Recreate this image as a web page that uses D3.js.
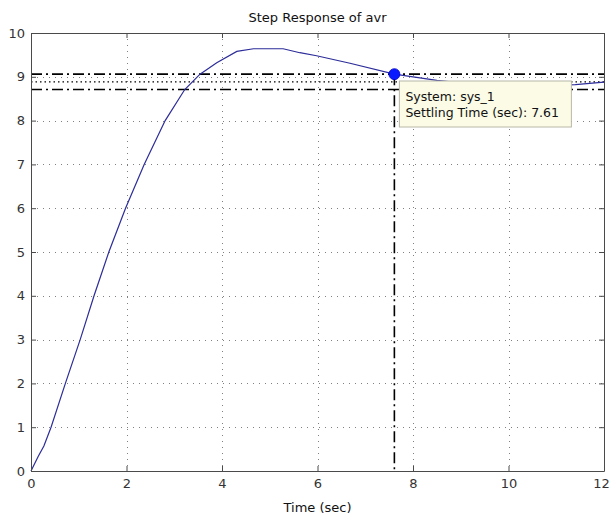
<!DOCTYPE html>
<html>
<head>
<meta charset="utf-8">
<script src="https://cdn.jsdelivr.net/npm/d3@7"></script>
<style>
  html, body { margin: 0; padding: 0; background: #fff; }
  svg { display: block; }
  text { font-family: "DejaVu Sans", "Liberation Sans", Arial, sans-serif; }
</style>
</head>
<body>
<svg id="chart" width="611" height="518"></svg>
<script>
// ---- data ----
const timeSec  = [0, 0.15, 0.27, 0.42, 0.72, 1.03, 1.32, 1.63, 1.98, 2.37, 2.81, 3.22, 3.54, 3.89, 4.31, 4.66, 5.28, 5.63, 5.98, 6.68, 7.61, 8.5, 9.2, 10.0, 10.8, 11.4, 12];
const response = [0, 0.33, 0.57, 1.0, 2.0, 3.0, 4.0, 5.0, 6.0, 7.0, 8.0, 8.71, 9.06, 9.32, 9.58, 9.64, 9.64, 9.55, 9.48, 9.31, 9.06, 8.92, 8.84, 8.80, 8.80, 8.82, 8.88];
const xTicks = [0, 2, 4, 6, 8, 10, 12];
const yTicks = [0, 1, 2, 3, 4, 5, 6, 7, 8, 9, 10];
const steadyState = 8.885;
const settleBand = [9.06, 8.71];
const settlingTime = 7.61;
const settlingValue = 9.06;
const titleText = "Step Response of avr";
const xLabel = "Time (sec)";
const tipLines = ["System: sys_1", "Settling Time (sec): 7.61"];

// ---- layout ----
const svg = d3.select("#chart");
const L = 31, R = 604, T = 33, B = 471;
const x = d3.scaleLinear().domain([0, 12]).range([L, R]);
const y = d3.scaleLinear().domain([0, 10]).range([B, T]);

svg.append("rect").attr("width", 611).attr("height", 518).attr("fill", "#fff");

// grid
const grid = svg.append("g").attr("stroke", "#808080").attr("stroke-width", 1).attr("stroke-dasharray", "1,5");
grid.selectAll("line.gx").data(xTicks.slice(1, -1)).join("line")
  .attr("x1", d => Math.round(x(d)) + 0.5).attr("x2", d => Math.round(x(d)) + 0.5)
  .attr("y1", T).attr("y2", B);
grid.selectAll("line.gy").data(yTicks.slice(1, -1)).join("line")
  .attr("x1", L).attr("x2", R)
  .attr("y1", d => Math.round(y(d)) + 0.5).attr("y2", d => Math.round(y(d)) + 0.5);

// settling characteristic lines
const ch = svg.append("g").attr("stroke", "#000").attr("fill", "none");
ch.selectAll("line.band").data(settleBand).join("line")
  .attr("x1", L).attr("x2", R)
  .attr("y1", d => y(d)).attr("y2", d => y(d))
  .attr("stroke-width", 1.6).attr("stroke-dasharray", "11,4,2,4");
ch.append("line")
  .attr("x1", L).attr("x2", R)
  .attr("y1", y(steadyState)).attr("y2", y(steadyState))
  .attr("stroke-width", 1.2).attr("stroke-dasharray", "1.5,3");
ch.append("line")
  .attr("x1", x(settlingTime)).attr("x2", x(settlingTime))
  .attr("y1", y(settlingValue)).attr("y2", B)
  .attr("stroke-width", 1.6).attr("stroke-dasharray", "11,4,2,4");

// response curve
const line = d3.line().x((d, i) => x(timeSec[i])).y(d => y(d));
svg.append("path").datum(response)
  .attr("d", line)
  .attr("fill", "none").attr("stroke", "#2c2c9a").attr("stroke-width", 1.2);

// axes (ticks inward)
function styleAxis(g) {
  g.select(".domain").attr("stroke", "#4a4a4a");
  g.selectAll(".tick line").attr("stroke", "#4a4a4a");
  g.selectAll(".tick text").attr("fill", "#333").attr("font-size", 13)
    .attr("font-family", '"DejaVu Sans", "Liberation Sans", Arial, sans-serif');
}
const xAxisG = svg.append("g").attr("transform", `translate(0,${B})`)
  .call(d3.axisBottom(x).tickValues(xTicks).tickFormat(d3.format("d")).tickSizeInner(-5).tickSizeOuter(0).tickPadding(8))
  .call(styleAxis);
xAxisG.selectAll(".tick text").filter(d => d === 12).attr("dx", -3);
svg.append("g").attr("transform", `translate(${L},0)`)
  .call(d3.axisLeft(y).tickValues(yTicks).tickFormat(d3.format("d")).tickSizeInner(-5).tickSizeOuter(0).tickPadding(6))
  .call(styleAxis);
svg.append("g").attr("transform", `translate(0,${T})`)
  .call(d3.axisTop(x).tickValues(xTicks).tickFormat("").tickSizeInner(-5).tickSizeOuter(0))
  .call(styleAxis);
svg.append("g").attr("transform", `translate(${R},0)`)
  .call(d3.axisRight(y).tickValues(yTicks).tickFormat("").tickSizeInner(-5).tickSizeOuter(0))
  .call(styleAxis);

// data tip marker
svg.append("circle").attr("cx", x(settlingTime)).attr("cy", y(settlingValue)).attr("r", 5.5)
  .attr("fill", "#0a1aff").attr("stroke", "#0000cc").attr("stroke-width", 0.8);

// data tip box
const tip = svg.append("g").attr("transform", `translate(${x(settlingTime) + 5},81)`);
tip.append("rect").attr("x", 0).attr("y", 0).attr("width", 172).attr("height", 46)
  .attr("fill", "#fbfbe6").attr("stroke", "#b8b8a8").attr("stroke-width", 1);
tip.selectAll("text").data(tipLines).join("text")
  .attr("x", 6).attr("y", (d, i) => 20 + i * 16)
  .attr("font-size", 12.5).attr("fill", "#111")
  .text(d => d);

// title and label
svg.append("text").attr("x", (L + R) / 2).attr("y", 22).attr("text-anchor", "middle")
  .attr("font-size", 13).attr("fill", "#111").text(titleText);
svg.append("text").attr("x", (L + R) / 2).attr("y", 512).attr("text-anchor", "middle")
  .attr("font-size", 13).attr("fill", "#111").text(xLabel);
</script>
</body>
</html>
